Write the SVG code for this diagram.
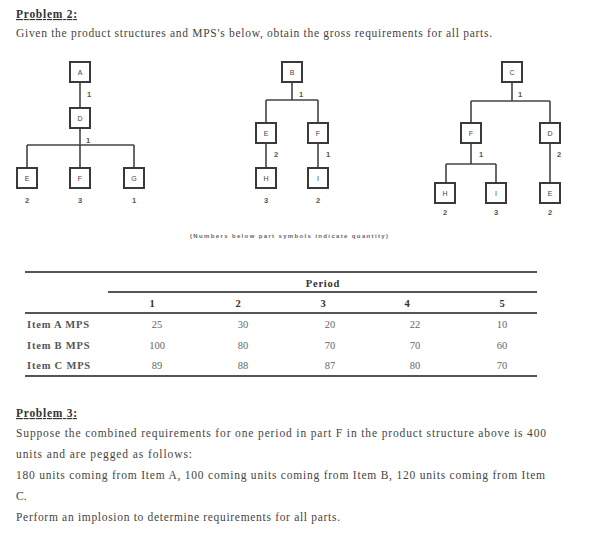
<svg xmlns="http://www.w3.org/2000/svg" width="593" height="534" viewBox="0 0 593 534">
<style>
.t{font-family:"Liberation Serif","Times New Roman",serif;font-size:11.5px;fill:#444}
.h{font-family:"Liberation Serif","Times New Roman",serif;font-size:11.5px;font-weight:bold;fill:#333;text-decoration:underline}
.c{font-family:"Liberation Serif","Times New Roman",serif;font-size:10.5px;fill:#666;text-anchor:middle}
.cb{font-family:"Liberation Serif","Times New Roman",serif;font-size:10.5px;font-weight:bold;fill:#333;text-anchor:middle}
.rl{font-family:"Liberation Serif","Times New Roman",serif;font-size:10.5px;fill:#555;font-weight:bold;letter-spacing:0.8px}
.box{fill:#fff;stroke:#3a3a3a;stroke-width:2}
.n{font-family:"Liberation Sans",Arial,sans-serif;font-size:7px;fill:#444;text-anchor:middle}
.q{font-family:"Liberation Sans",Arial,sans-serif;font-size:7.5px;font-weight:bold;fill:#555;text-anchor:middle}
.ln{stroke:#444;stroke-width:1.6;fill:none}
.tl{stroke:#555;stroke-width:2}
</style>
<rect width="593" height="534" fill="#fff"/>
<text class="h" x="16" y="18" textLength="61">Problem 2:</text>
<text class="t" x="16" y="37" textLength="476">Given the product structures and MPS's below, obtain the gross requirements for all parts.</text>

<g id="connectors">
<path class="ln" d="M80 82V108M80 128V168M27 145H134M27 145V168M134 145V168"/>
<path class="ln" d="M292 82V100M266 100H318M266 100V123M318 100V123M266 143V168M318 143V168"/>
<path class="ln" d="M512 82V101M471 101H550M471 101V123M550 101V123M471 143V164M446 164H496M446 164V183M496 164V183M550 143V183"/>
</g>

<g id="t1A"><rect class="box" x="70" y="62" width="20" height="20"/><text class="n" x="80" y="74.5">A</text></g>
<g id="t1D"><rect class="box" x="70" y="108" width="20" height="20"/><text class="n" x="80" y="120.5">D</text></g>
<g id="t1E"><rect class="box" x="17" y="168" width="20" height="20"/><text class="n" x="27" y="180.5">E</text></g>
<g id="t1F"><rect class="box" x="70" y="168" width="20" height="20"/><text class="n" x="80" y="180.5">F</text></g>
<g id="t1G"><rect class="box" x="124" y="168" width="20" height="20"/><text class="n" x="134" y="180.5">G</text></g>
<g id="t1q"><text class="q" x="89" y="97">1</text><text class="q" x="88" y="143">1</text><text class="q" x="27" y="203">2</text><text class="q" x="80" y="203">3</text><text class="q" x="134" y="203">1</text></g>

<g id="t2B"><rect class="box" x="282" y="62" width="20" height="20"/><text class="n" x="292" y="74.5">B</text></g>
<g id="t2E"><rect class="box" x="256" y="123" width="20" height="20"/><text class="n" x="266" y="135.5">E</text></g>
<g id="t2F"><rect class="box" x="308" y="123" width="20" height="20"/><text class="n" x="318" y="135.5">F</text></g>
<g id="t2H"><rect class="box" x="256" y="168" width="20" height="20"/><text class="n" x="266" y="180.5">H</text></g>
<g id="t2I"><rect class="box" x="308" y="168" width="20" height="20"/><text class="n" x="318" y="180.5">I</text></g>
<g id="t2q"><text class="q" x="301" y="97">1</text><text class="q" x="276" y="157">2</text><text class="q" x="328" y="157">1</text><text class="q" x="266" y="203">3</text><text class="q" x="318" y="203">2</text></g>

<g id="t3C"><rect class="box" x="502" y="62" width="20" height="20"/><text class="n" x="512" y="74.5">C</text></g>
<g id="t3F"><rect class="box" x="461" y="123" width="20" height="20"/><text class="n" x="471" y="135.5">F</text></g>
<g id="t3D"><rect class="box" x="540" y="123" width="20" height="20"/><text class="n" x="550" y="135.5">D</text></g>
<g id="t3H"><rect class="box" x="435" y="183" width="20" height="20"/><text class="n" x="445" y="195.5">H</text></g>
<g id="t3I"><rect class="box" x="486" y="183" width="20" height="20"/><text class="n" x="496" y="195.5">I</text></g>
<g id="t3E"><rect class="box" x="540" y="183" width="20" height="20"/><text class="n" x="550" y="195.5">E</text></g>
<g id="t3q"><text class="q" x="520" y="97">1</text><text class="q" x="481" y="157">1</text><text class="q" x="559" y="157">2</text><text class="q" x="445" y="215">2</text><text class="q" x="496" y="215">3</text><text class="q" x="550" y="215">2</text></g>

<text x="190" y="237.5" textLength="198" style="font-family:'Liberation Sans',Arial,sans-serif;font-size:6px;font-weight:bold;fill:#666">(Numbers below part symbols indicate quantity)</text>

<g id="table">
<line class="tl" x1="25" y1="272" x2="537" y2="272"/>
<line class="tl" x1="108" y1="292" x2="537" y2="292"/>
<line class="tl" x1="25" y1="313" x2="537" y2="313"/>
<line class="tl" x1="25" y1="376" x2="537" y2="376"/>
<text class="cb" x="323" y="287" letter-spacing="0.8">Period</text>
<text class="cb" x="152" y="307">1</text><text class="cb" x="238" y="307">2</text><text class="cb" x="323" y="307">3</text><text class="cb" x="407" y="307">4</text><text class="cb" x="502" y="307">5</text>
<text class="rl" x="27" y="328">Item A MPS</text>
<text class="rl" x="27" y="349">Item B MPS</text>
<text class="rl" x="27" y="369">Item C MPS</text>
<text class="c" x="157" y="328">25</text><text class="c" x="243" y="328">30</text><text class="c" x="330" y="328">20</text><text class="c" x="415" y="328">22</text><text class="c" x="502" y="328">10</text>
<text class="c" x="157" y="349">100</text><text class="c" x="243" y="349">80</text><text class="c" x="330" y="349">70</text><text class="c" x="415" y="349">70</text><text class="c" x="502" y="349">60</text>
<text class="c" x="157" y="369">89</text><text class="c" x="243" y="369">88</text><text class="c" x="330" y="369">87</text><text class="c" x="415" y="369">80</text><text class="c" x="502" y="369">70</text>
</g>

<text class="h" x="16" y="417" textLength="61">Problem 3:</text>
<text class="t" x="16" y="437" textLength="530">Suppose the combined requirements for one period in part F in the product structure above is 400</text>
<text class="t" x="16" y="458" textLength="176">units and are pegged as follows:</text>
<text class="t" x="16" y="479" textLength="529">180 units coming from Item A, 100 coming units coming from Item B, 120 units coming from Item</text>
<text class="t" x="16" y="500">C.</text>
<text class="t" x="16" y="521" textLength="324">Perform an implosion to determine requirements for all parts.</text>
</svg>
